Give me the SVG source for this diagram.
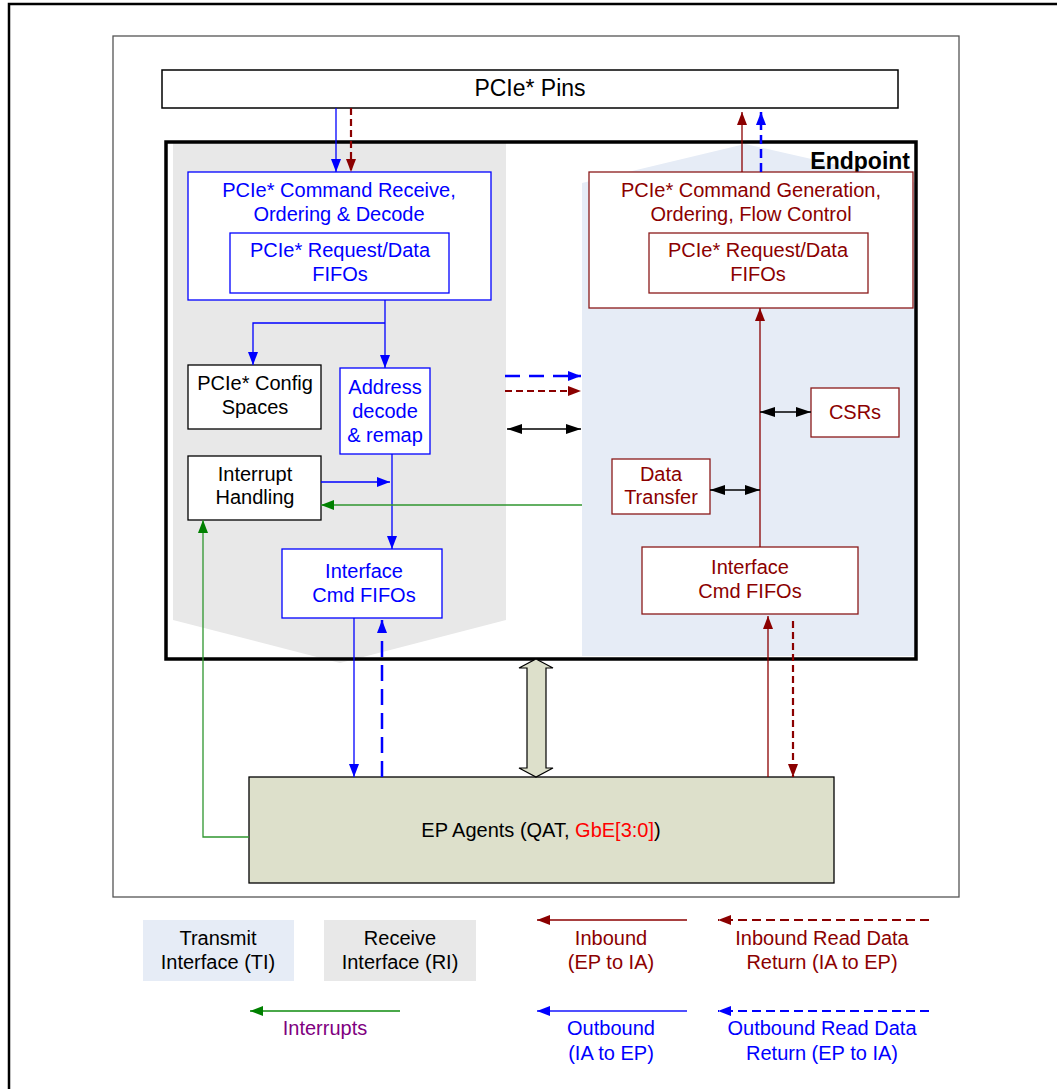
<svg xmlns="http://www.w3.org/2000/svg" width="1057" height="1089" viewBox="0 0 1057 1089">
<style>
text{font-family:"Liberation Sans",Arial,sans-serif;font-size:20px;text-anchor:middle}
.b{fill:#0000ff}.r{fill:#8b0000}.k{fill:#000}
.bx{fill:#fff;stroke:#0000ff;stroke-width:1.3}
.rx{fill:#fff;stroke:#8b1a1a;stroke-width:1.3}
.kx{fill:#fff;stroke:#000;stroke-width:1.3}
.cb{stroke:#0000ff;stroke-width:1.3;fill:none}
.cbd{stroke:#0000ff;stroke-width:2.5;fill:none;stroke-dasharray:16 8}
.cr{stroke:#8b0000;stroke-width:1.3;fill:none}
.crd{stroke:#8b0000;stroke-width:2.2;fill:none;stroke-dasharray:7 4}
.cg{stroke:#2f962f;stroke-width:1.3;fill:none}
.ck{stroke:#000;stroke-width:1.3;fill:none}
</style>
<defs>
<marker id="mb" viewBox="0 0 13 10" refX="13" refY="5" markerWidth="13" markerHeight="10" markerUnits="userSpaceOnUse" orient="auto-start-reverse"><path d="M0,0 L13,5 L0,10z" fill="#0000ff"/></marker>
<marker id="mr" viewBox="0 0 13 10" refX="13" refY="5" markerWidth="13" markerHeight="10" markerUnits="userSpaceOnUse" orient="auto-start-reverse"><path d="M0,0 L13,5 L0,10z" fill="#8b0000"/></marker>
<marker id="mg" viewBox="0 0 13 10" refX="13" refY="5" markerWidth="13" markerHeight="10" markerUnits="userSpaceOnUse" orient="auto-start-reverse"><path d="M0,0 L13,5 L0,10z" fill="#008000"/></marker>
<marker id="mk" viewBox="0 0 15 10" refX="15" refY="5" markerWidth="15" markerHeight="10" markerUnits="userSpaceOnUse" orient="auto-start-reverse"><path d="M0,0 L15,5 L0,10z" fill="#000"/></marker>
</defs>
<rect width="1057" height="1089" fill="#fff"/>
<path d="M9,1089 V4 H1057" fill="none" stroke="#000" stroke-width="2.5"/>
<rect x="113" y="36" width="846" height="861" fill="none" stroke="#555" stroke-width="1.3"/>

<g id="pins"><rect x="162" y="70" width="736" height="38" fill="#fff" stroke="#000" stroke-width="1.5"/><text x="530" y="96" style="font-size:23px">PCIe* Pins</text></g>

<g id="endpoint">
<polygon points="173,143 506,143 506,620 340,663 173,620" fill="#e8e8e8"/>
<polygon points="582,183 745,144 917,183 917,656 582,656" fill="#e6ecf6"/>
<rect x="166" y="142" width="750" height="517" fill="none" stroke="#000" stroke-width="3.5"/>
<text x="910" y="169" style="font-size:23px;font-weight:bold;text-anchor:end">Endpoint</text>
</g>

<g id="cmd-receive"><rect class="bx" x="188" y="172" width="303" height="128"/><text class="b" x="339" y="197">PCIe* Command Receive,</text><text class="b" x="339" y="221">Ordering &amp; Decode</text></g>
<g id="rx-fifos"><rect class="bx" x="230" y="233" width="219" height="60"/><text class="b" x="340" y="257">PCIe* Request/Data</text><text class="b" x="340" y="281">FIFOs</text></g>
<g id="cmd-gen"><rect class="rx" x="589" y="172" width="324" height="136"/><text class="r" x="751" y="197">PCIe* Command Generation,</text><text class="r" x="751" y="221">Ordering, Flow Control</text></g>
<g id="tx-fifos"><rect class="rx" x="649" y="233" width="219" height="60"/><text class="r" x="758" y="257">PCIe* Request/Data</text><text class="r" x="758" y="281">FIFOs</text></g>
<g id="config"><rect class="kx" x="188" y="365" width="133" height="64"/><text class="k" x="255" y="390">PCIe* Config</text><text class="k" x="255" y="414">Spaces</text></g>
<g id="addr"><rect class="bx" x="340" y="368" width="90" height="86"/><text class="b" x="385" y="394">Address</text><text class="b" x="385" y="418">decode</text><text class="b" x="385" y="442">&amp; remap</text></g>
<g id="interrupt"><rect class="kx" x="188" y="456" width="133" height="64"/><text class="k" x="255" y="481">Interrupt</text><text class="k" x="255" y="504">Handling</text></g>
<g id="if-left"><rect class="bx" x="282" y="549" width="160" height="69"/><text class="b" x="364" y="578">Interface</text><text class="b" x="364" y="602">Cmd FIFOs</text></g>
<g id="csrs"><rect class="rx" x="811" y="388" width="88" height="49"/><text class="r" x="855" y="419">CSRs</text></g>
<g id="data-transfer"><rect class="rx" x="612" y="459" width="98" height="55"/><text class="r" x="661" y="481">Data</text><text class="r" x="661" y="504">Transfer</text></g>
<g id="if-right"><rect class="rx" x="642" y="547" width="216" height="67"/><text class="r" x="750" y="574">Interface</text><text class="r" x="750" y="598">Cmd FIFOs</text></g>
<g id="ep-agents"><rect x="249" y="777" width="585" height="106" fill="#dde0cb" stroke="#000" stroke-width="1.3"/><text x="541" y="837" class="k">EP Agents (QAT, <tspan fill="#ff0000">GbE[3:0]</tspan>)</text></g>

<g id="connectors">
<path class="cb" d="M336,108 V172" marker-end="url(#mb)"/>
<path class="crd" d="M351,108 V172" marker-end="url(#mr)"/>
<path class="cr" d="M742,172 V112" marker-end="url(#mr)"/>
<path class="cbd" d="M761,172 V112" style="stroke-dasharray:9 5" marker-end="url(#mb)"/>
<path class="cb" d="M385,300 V368" marker-end="url(#mb)"/>
<path class="cb" d="M385,323 H253 V365" marker-end="url(#mb)"/>
<path class="cb" d="M321,482 H390" marker-end="url(#mb)"/>
<path class="cb" d="M392,454 V549" marker-end="url(#mb)"/>
<path class="cg" d="M582,505 H321" marker-end="url(#mg)"/>
<path class="cg" d="M249,837 H203 V520" marker-end="url(#mg)"/>
<path class="cb" d="M354,618 V777" marker-end="url(#mb)"/>
<path class="cbd" d="M382,777 V620" marker-end="url(#mb)"/>
<polygon points="536,659 553,668 546,668 546,768 553,768 536,777 519,768 527,768 527,668 519,668" fill="#dde0cb" stroke="#000" stroke-width="1.2"/>
<path class="cr" d="M768,777 V616" marker-end="url(#mr)"/>
<path class="crd" d="M793,621 V777" marker-end="url(#mr)"/>
<path class="cr" d="M760,547 V308" marker-end="url(#mr)"/>
<path class="ck" d="M760,412 H811" marker-start="url(#mk)" marker-end="url(#mk)"/>
<path class="ck" d="M710,490 H760" marker-start="url(#mk)" marker-end="url(#mk)"/>
<path class="cbd" d="M505,376 H581" style="stroke-dasharray:15 9" marker-end="url(#mb)"/>
<path class="crd" d="M505,391 H581" marker-end="url(#mr)"/>
<path class="ck" d="M507,429 H581" marker-start="url(#mk)" marker-end="url(#mk)"/>
</g>

<g id="legend">
<rect x="143" y="920" width="151" height="61" fill="#e6ecf6"/>
<text class="k" x="218" y="945">Transmit</text><text class="k" x="218" y="969">Interface (TI)</text>
<rect x="324" y="920" width="152" height="61" fill="#e8e8e8"/>
<text class="k" x="400" y="945">Receive</text><text class="k" x="400" y="969">Interface (RI)</text>
<path class="cr" d="M687,920 H537" marker-end="url(#mr)"/>
<text class="r" x="611" y="945">Inbound</text><text class="r" x="611" y="969">(EP to IA)</text>
<path class="crd" d="M929,920 H718" style="stroke-dasharray:9 5" marker-end="url(#mr)"/>
<text class="r" x="822" y="945">Inbound Read Data</text><text class="r" x="822" y="969">Return (IA to EP)</text>
<path class="cg" d="M400,1011 H250" style="stroke:#4aa84a;stroke-width:2" marker-end="url(#mg)"/>
<text x="325" y="1035" fill="#800080">Interrupts</text>
<path class="cb" d="M687,1011 H537" style="stroke:#5050ff;stroke-width:2" marker-end="url(#mb)"/>
<text class="b" x="611" y="1035">Outbound</text><text class="b" x="611" y="1060">(IA to EP)</text>
<path class="cbd" d="M929,1011 H718" style="stroke-dasharray:9 5;stroke-width:2.2" marker-end="url(#mb)"/>
<text class="b" x="822" y="1035">Outbound Read Data</text><text class="b" x="822" y="1060">Return (EP to IA)</text>
</g>
</svg>
